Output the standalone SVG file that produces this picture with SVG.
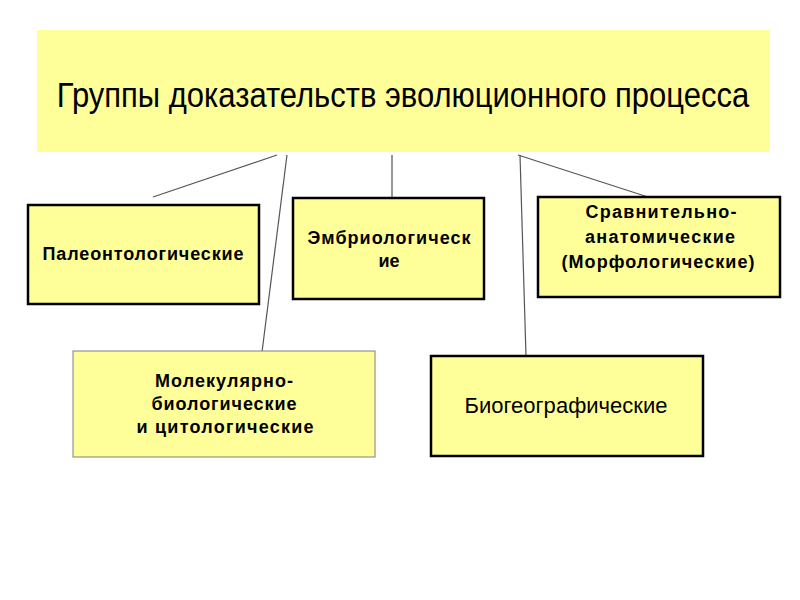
<svg xmlns="http://www.w3.org/2000/svg" width="800" height="600" viewBox="0 0 800 600">
<style>
.box{fill:#ffff99;stroke:#000;stroke-width:2.5}
.thin{fill:#ffff99;stroke:#808080;stroke-width:1}
.b{font-family:"Liberation Sans",Arial,sans-serif;font-weight:bold;font-size:18px;fill:#000;text-anchor:middle}
.r{font-family:"Liberation Sans",Arial,sans-serif;font-size:22px;fill:#000;text-anchor:middle}
.c line{stroke:#555;stroke-width:1.2}
</style>
<rect width="800" height="600" fill="#fff"/>
<g id="title">
<rect x="37" y="30" width="733" height="122" fill="#ffff99"/>
<text transform="translate(403,107) scale(1,1.16)" x="0" y="0" style="font-family:'Liberation Sans',Arial,sans-serif;font-size:31px;text-anchor:middle;fill:#000">Группы доказательств эволюционного процесса</text>
</g>
<g class="c" id="connectors">
<line x1="277" y1="155" x2="153" y2="197"/>
<line x1="287" y1="155" x2="262" y2="352"/>
<line x1="392" y1="155" x2="392" y2="198"/>
<line x1="518" y1="155" x2="648" y2="197"/>
<line x1="520" y1="155" x2="526" y2="356"/>
</g>
<g id="paleo">
<rect class="box" x="28" y="205" width="231" height="99"/>
<text class="b" x="143" y="260" textLength="201">Палеонтологические</text>
</g>
<g id="embryo">
<rect class="box" x="293" y="198" width="191" height="101"/>
<text class="b" x="389" y="244" textLength="163">Эмбриологическ</text>
<text class="b" x="389" y="267">ие</text>
</g>
<g id="compare">
<rect class="box" x="538" y="197" width="242" height="100"/>
<text class="b" x="661" y="218" textLength="151">Сравнительно-</text>
<text class="b" x="660" y="243" textLength="150">анатомические</text>
<text class="b" x="658" y="268" textLength="193">(Морфологические)</text>
</g>
<g id="molecular">
<rect class="thin" x="73" y="351" width="302" height="106"/>
<text class="b" x="224" y="387" textLength="138">Молекулярно-</text>
<text class="b" x="224" y="410" textLength="145">биологические</text>
<text class="b" x="225" y="433" textLength="177">и цитологические</text>
</g>
<g id="bio">
<rect class="box" x="431" y="356" width="272" height="100"/>
<text class="r" x="566" y="413" textLength="203">Биогеографические</text>
</g>
</svg>
